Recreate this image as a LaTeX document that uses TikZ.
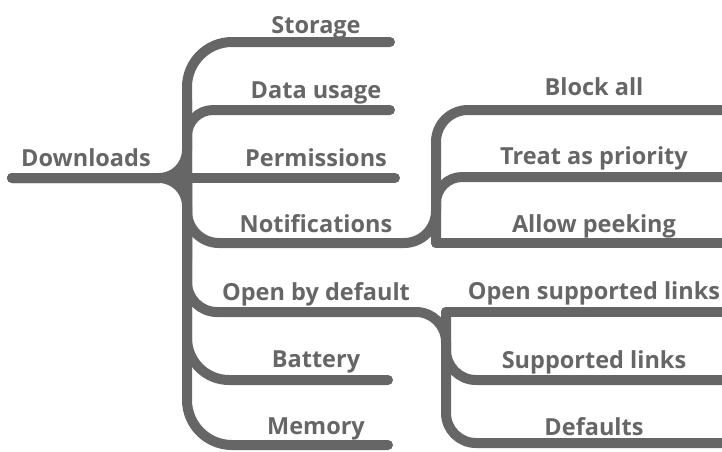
\documentclass[tikz,border=0pt]{standalone}
\usepackage{fontspec}
\setmainfont{Open Sans}
\usepackage{tikz}
\usetikzlibrary{positioning}
\definecolor{treegray}{RGB}{102,102,102}
\tikzstyle{branch} = [draw=treegray, line width=10pt, line cap=round]
\tikzstyle{leaf} = [draw=none, text=treegray, anchor=base, inner sep=0pt, font=\bfseries\fontsize{23.5}{24}\selectfont]

\begin{document}
\begin{tikzpicture}[x=1pt, y=-1pt]
		\useasboundingbox (0,0) rectangle (722,451);
		
		\coordinate (root) at (12,178);
		\coordinate (hub) at (187,178);
		\coordinate (up) at (187,100);
		\coordinate (down) at (187,260);
		\coordinate (storage-end) at (390,42);
		\coordinate (data-end) at (390,110);
		\coordinate (perm-end) at (395,178);
		\coordinate (notif-hub) at (436,243);
		\coordinate (block-end) at (730,110);
		\coordinate (prio-end) at (730,177);
		\coordinate (peek-end) at (730,243);
		\coordinate (open-hub) at (446,312);
		\coordinate (links-end) at (730,312);
		\coordinate (supp-end) at (730,380);
		\coordinate (defaults-end) at (730,443);
		\coordinate (battery-end) at (388,380);
		\coordinate (memory-end) at (388,445);
		
		\draw[branch] (root) -- (perm-end);
		\draw[branch, rounded corners=28pt] (root) -| (up);
		\draw[branch, rounded corners=28pt] (root) -| (down);
		\draw[branch, rounded corners=45pt] (hub) |- (storage-end);
		\draw[branch, rounded corners=26pt] (hub) |- (data-end);
		\draw[branch, rounded corners=32pt] (hub) |- (notif-hub) |- (block-end);
		\draw[branch] (notif-hub) -- (peek-end);
		\draw[branch, rounded corners=26pt] (notif-hub) |- (prio-end);
		\draw[branch, rounded corners=30pt] (hub) |- (open-hub) |- (defaults-end);
		\draw[branch] (open-hub) -- (links-end);
		\draw[branch, rounded corners=30pt] (open-hub) |- (supp-end);
		\draw[branch, rounded corners=42pt] (hub) |- (battery-end);
		\draw[branch, rounded corners=45pt] (hub) |- (memory-end);
		
		\node[leaf] (downloads) at (86,166) {Downloads};
		\node[leaf] (storage) at (316,33) {Storage};
		\node[leaf] (data) at (316,98) {Data usage};
		\node[leaf] (perm) at (316,166) {Permissions};
		\node[leaf] (notif) at (316,232) {Notifications};
		\node[leaf] (open) at (316,300) {Open by default};
		\node[leaf] (battery) at (316,367) {Battery};
		\node[leaf] (memory) at (316,434) {Memory};
		\node[leaf] (block) at (594,95) {Block all};
		\node[leaf] (prio) at (594,164) {Treat as priority};
		\node[leaf] (peek) at (594,232) {Allow peeking};
		\node[leaf] (links) at (594,299) {Open supported links};
		\node[leaf] (supp) at (594,368) {Supported links};
		\node[leaf] (defaults) at (594,435) {Defaults};
	\end{tikzpicture}
\end{document}
